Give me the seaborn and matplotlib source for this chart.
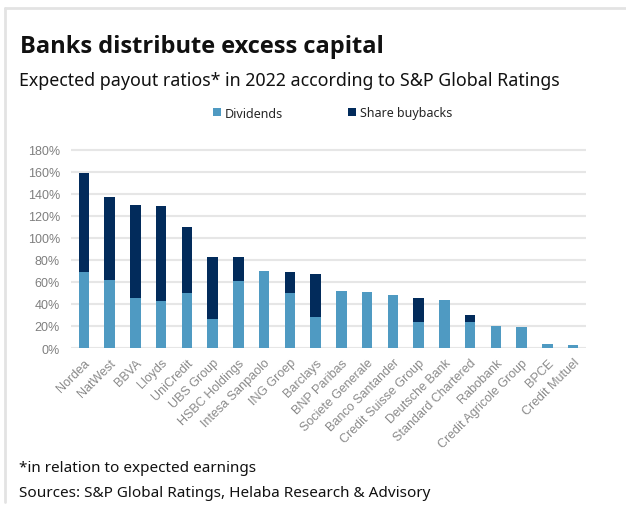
import numpy as np
import pandas as pd
import matplotlib
matplotlib.use("Agg")
import matplotlib.pyplot as plt
import seaborn as sns
from matplotlib.lines import Line2D
from matplotlib.patches import Patch

banks = ["Nordea", "NatWest", "BBVA", "Lloyds", "UniCredit", "UBS Group",
         "HSBC Holdings", "Intesa Sanpaolo", "ING Groep", "Barclays",
         "BNP Paribas", "Societe Generale", "Banco Santander",
         "Credit Suisse Group", "Deutsche Bank", "Standard Chartered",
         "Rabobank", "Credit Agricole Group", "BPCE", "Credit Mutuel"]
dividends = [69, 62, 45, 43, 50, 26, 61, 70, 50, 28, 52, 51, 48, 24, 44, 24, 20, 19, 4, 3]
buybacks = [90, 75, 85, 86, 60, 57, 22, 0, 19, 39, 0, 0, 0, 21, 0, 6, 0, 0, 0, 0]
yticks = [0, 20, 40, 60, 80, 100, 120, 140, 160, 180]

C_DIV = "#4f9ac2"
C_BUY = "#022b5b"

df = pd.DataFrame({"bank": banks, "div": dividends, "buy": buybacks})
df["total"] = df["div"] + df["buy"]

sns.set_theme(style="white")
plt.rcParams["font.family"] = ["Liberation Sans", "DejaVu Sans"]

W, H = 626, 506
fig = plt.figure(figsize=(W / 100, H / 100), dpi=100)
ax = fig.add_axes([71 / W, (H - 349) / H, (586 - 71) / W, (349 - 149) / H])

sns.barplot(data=df, x="bank", y="total", color=C_BUY, saturation=1,
            width=0.4, ax=ax, order=banks, linewidth=0)
sns.barplot(data=df, x="bank", y="div", color=C_DIV, saturation=1,
            width=0.4, ax=ax, order=banks, linewidth=0)

ax.set_xlim(-0.5, len(banks) - 0.5)
ax.set_ylim(0, 180 * 200 / 198.3)
ax.set_yticks(yticks)
ax.set_yticklabels([f"{v}%" for v in yticks], color="#7f7f7f", fontsize=9)
ax.set_xticks(range(len(banks)))
ax.set_xticklabels(banks, rotation=45, ha="right", rotation_mode="anchor",
                   color="#8a8a8a", fontsize=9)
ax.tick_params(axis="y", length=0, pad=8)
ax.tick_params(axis="x", length=0, pad=6)
ax.set_xlabel("")
ax.set_ylabel("")
for s in ax.spines.values():
    s.set_visible(False)
ax.set_axisbelow(True)
ax.yaxis.grid(True, color="#e6e6e6", linewidth=1.5)

# Titles
fig.text(20 / W, 1 - 53 / H, "Banks distribute excess capital", fontsize=17,
         fontweight="bold", family=["Open Sans", "DejaVu Sans"], color="#111111",
         va="baseline")
fig.text(19 / W, 1 - 86 / H, "Expected payout ratios* in 2022 according to S&P Global Ratings",
         fontsize=12.8, family=["Noto Sans", "DejaVu Sans"], color="#111111",
         va="baseline")

# Legend
handles = [Patch(facecolor=C_DIV, edgecolor="none"), Patch(facecolor=C_BUY, edgecolor="none")]
fig.legend(handles, ["Dividends", "Share buybacks"], loc="center",
           bbox_to_anchor=(333 / W, 1 - 114 / H), ncol=2, frameon=False,
           handlelength=0.6, handleheight=0.6, handletextpad=0.35,
           columnspacing=5.2, prop={"family": ["Noto Sans", "DejaVu Sans"], "size": 9})

# Footnotes
fig.text(19 / W, 1 - 472 / H, "*in relation to expected earnings", fontsize=11,
         family=["Noto Sans", "DejaVu Sans"], color="#111111", va="baseline")
fig.text(19 / W, 1 - 497 / H, "Sources: S&P Global Ratings, Helaba Research & Advisory",
         fontsize=11, family=["Noto Sans", "DejaVu Sans"], color="#111111", va="baseline")

# Card border
fig.add_artist(Line2D([5 / W, 1], [1 - 9 / H, 1 - 9 / H], color="#e3e3e3", linewidth=2,
                      transform=fig.transFigure))
fig.add_artist(Line2D([5 / W, 5 / W], [1 - 9 / H, 1 - 503 / H], color="#e3e3e3", linewidth=2,
                      transform=fig.transFigure))

fig.savefig("out.png", dpi=100)
